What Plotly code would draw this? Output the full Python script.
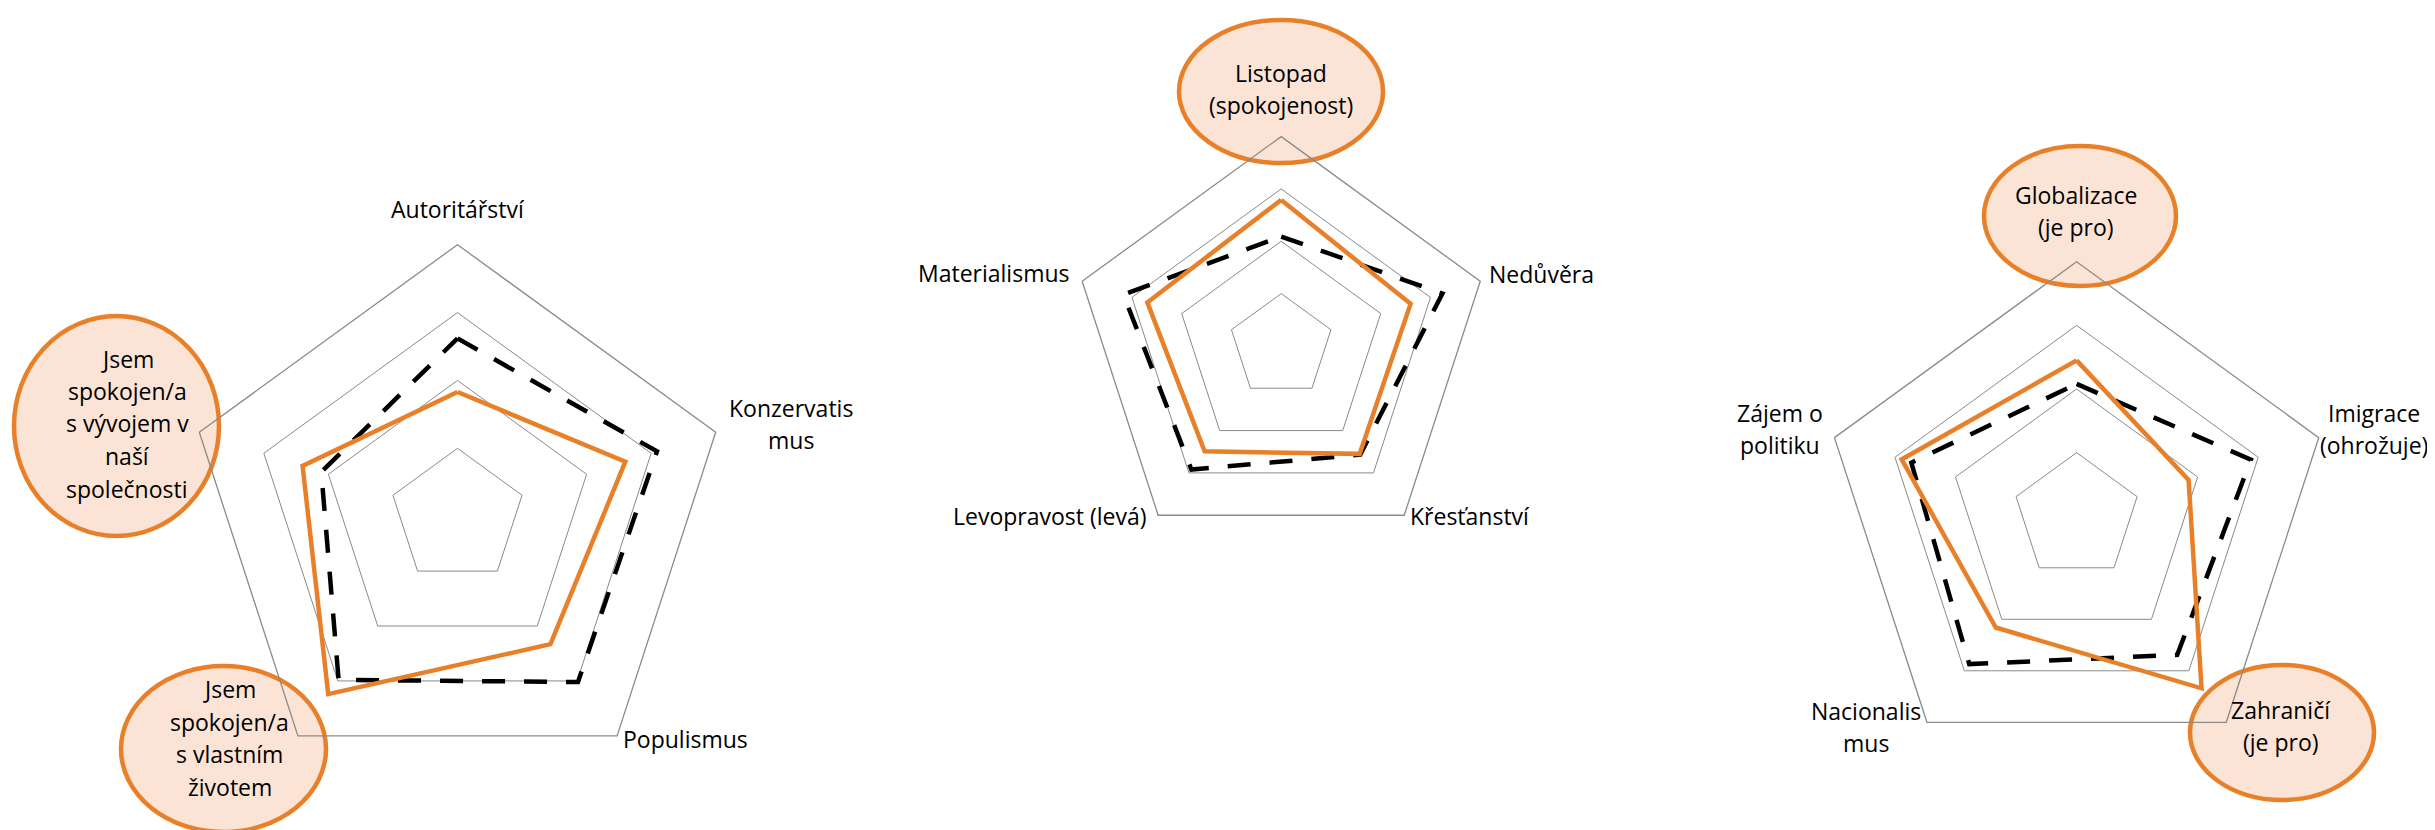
import plotly.graph_objects as go

# ---------------- data ----------------
cats1 = ["Autoritářství", "Konzervatismus", "Populismus",
         "Jsem spokojen/a s vlastním životem", "Jsem spokojen/a s vývojem v naší společnosti"]
orange1 = [1.83, 2.60, 2.33, 3.24, 2.40]
black1 = [2.62, 3.09, 3.02, 2.98, 2.11]

cats2 = ["Listopad (spokojenost)", "Nedůvěra", "Křesťanství", "Levopravost (levá)", "Materialismus"]
orange2 = [2.79, 2.60, 2.55, 2.49, 2.69]
black2 = [2.09, 3.24, 2.57, 2.92, 3.17]

cats3 = ["Globalizace (je pro)", "Imigrace (ohrožuje)", "Zahraničí (je pro)", "Nacionalismus", "Zájem o politiku"]
orange3 = [2.45, 1.85, 3.34, 2.16, 2.89]
black3 = [2.08, 2.88, 2.69, 2.87, 2.73]

# displayed (wrapped) axis labels
labels1 = ["Autoritářství", "Konzervatis\nmus", "Populismus",
           "Jsem\nspokojen/a\ns vlastním\nživotem", "Jsem\nspokojen/a\ns vývojem v\nnaší\nspolečnosti"]
labels2 = ["Listopad\n(spokojenost)", "Nedůvěra", "Křesťanství", "Levopravost (levá)", "Materialismus"]
labels3 = ["Globalizace\n(je pro)", "Imigrace\n(ohrožuje)", "Zahraničí\n(je pro)", "Nacionalis\nmus", "Zájem o\npolitiku"]

# ---------------- layout / style ----------------
W, H = 2435, 830
ORANGE = "#E8802A"
FILL = "#FBE4D5"
GRID = "#8A8A8A"
FONT = "Open Sans"
FS = 23
LINE_H = 32.5
TEXT_DY = -6  # visual correction of annotation baseline

# polar centres / radii in pixels
polars = [(449.5, 508.2, 271.5), (1273.2, 337.9, 209.3), (2068.6, 508.3, 254.6)]
# label anchor positions in pixels (centre of text block)
label_pos = [
    [(450, 207), (783, 422), (678, 737), (222, 736), (119, 421.5)],
    [(1273, 87), (1533, 272), (1462, 514), (1042, 514), (986, 271)],
    [(2068, 209), (2366, 427), (2273, 724), (1858, 725), (1772, 427)],
]
highlight = [  # ellipse boxes x0,y0,x1,y1 (pixels)
    (6, 308, 211, 528),
    (113, 658, 318, 824),
    (1171, 12, 1375, 155),
    (1976, 138, 2168, 278),
    (2182, 657, 2366, 792),
]

fig = go.Figure()

datasets = [(cats1, orange1, black1), (cats2, orange2, black2), (cats3, orange3, black3)]
for i, (cats, o, b) in enumerate(datasets):
    sub = "polar" if i == 0 else f"polar{i+1}"
    fig.add_trace(go.Scatterpolar(
        r=b + b[:1], theta=cats + cats[:1], mode="lines",
        line=dict(color="black", width=4.5, dash="23px,19px"),
        subplot=sub, hoverinfo="skip"))
    fig.add_trace(go.Scatterpolar(
        r=o + o[:1], theta=cats + cats[:1], mode="lines",
        line=dict(color=ORANGE, width=4.5),
        subplot=sub, hoverinfo="skip"))

layout = dict(width=W, height=H, margin=dict(l=0, r=0, t=0, b=0),
              paper_bgcolor="white", plot_bgcolor="white", showlegend=False)
for i, (cx, cy, R) in enumerate(polars):
    key = "polar" if i == 0 else f"polar{i+1}"
    layout[key] = dict(
        domain=dict(x=[(cx - R) / W, (cx + R) / W],
                    y=[(H - cy - R) / H, (H - cy + R) / H]),
        bgcolor="rgba(0,0,0,0)",
        gridshape="linear",
        radialaxis=dict(range=[0, 4], tickvals=[1, 2, 3], showticklabels=False,
                        ticks="", showline=False, gridcolor=GRID, gridwidth=1.3),
        angularaxis=dict(rotation=90, direction="clockwise", showticklabels=False,
                         ticks="", showgrid=False, showline=True,
                         linecolor=GRID, linewidth=1.3),
    )
fig.update_layout(**layout)

shapes = []
for (x0, y0, x1, y1) in highlight:
    shapes.append(dict(type="circle", xref="paper", yref="paper",
                       x0=x0 / W, x1=x1 / W, y0=1 - y1 / H, y1=1 - y0 / H,
                       fillcolor=FILL, line=dict(color=ORANGE, width=4.5),
                       layer="below"))
fig.update_layout(shapes=shapes)

annots = []
for labels, poss in zip([labels1, labels2, labels3], label_pos):
    for text, (px, py) in zip(labels, poss):
        lines = text.split("\n")
        n = len(lines)
        for k, ln in enumerate(lines):
            y = py + (k - (n - 1) / 2) * LINE_H + TEXT_DY
            annots.append(dict(text=ln, x=px / W, y=1 - y / H, xref="paper", yref="paper",
                               xanchor="center", yanchor="middle", showarrow=False,
                               font=dict(family=FONT, size=FS, color="black")))
fig.update_layout(annotations=annots)

fig.write_html("out.html")
